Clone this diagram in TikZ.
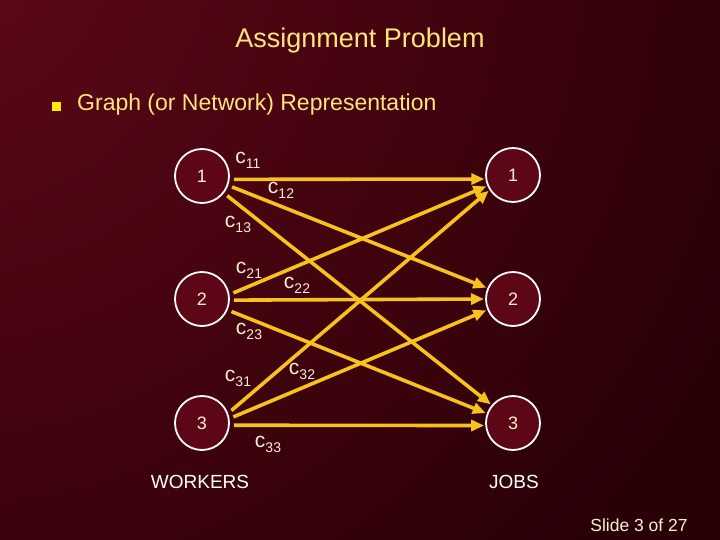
\documentclass[tikz,border=0pt]{standalone}
\usepackage{fontspec}
\setmainfont{Liberation Sans}
\usetikzlibrary{arrows.meta}
\definecolor{bgdark}{HTML}{2A0007}
\definecolor{bglight}{HTML}{600818}
\definecolor{nodefill}{HTML}{5C0616}
\definecolor{titleyellow}{HTML}{FFE57A}
\definecolor{cream}{HTML}{FBEFD0}
\definecolor{edgeyellow}{HTML}{F8C21C}
\newcommand{\clab}[1]{c\raisebox{-5pt}{\fontsize{14}{14}\selectfont #1}}
\tikzset{
  worker/.style={circle, draw=white, line width=1.8pt, fill=nodefill, minimum size=54pt, inner sep=0pt, outer sep=5pt, text=cream, font=\fontsize{18}{20}\selectfont},
  job/.style={worker, outer sep=2pt},
  edge/.style={draw=edgeyellow, line width=3.6pt, -{Triangle[length=13pt,width=11pt]}},
  clabel/.style={text=cream, font=\fontsize{21}{22}\selectfont, inner sep=0pt},
  plain/.style={inner sep=0pt}
}
\begin{document}
\begin{tikzpicture}[x=1pt,y=-1pt]
\useasboundingbox (0,0) rectangle (720,540);
\fill[bgdark] (0,0) rectangle (720,540);
\begin{scope}
\clip (0,0) rectangle (720,540);
\shade[inner color=bglight, outer color=bgdark] (-60,-60) circle (880);
\end{scope}
% title
\node[plain, text=titleyellow, font=\fontsize{27}{30}\selectfont] (title) at (360,41) {Assignment Problem};
\fill[yellow!95!orange] (52,102) rectangle (61,111);
\node[plain, anchor=west, text=titleyellow, font=\fontsize{23}{26}\selectfont] (sub) at (77,105) {Graph (or Network) Representation};
% nodes
\node[worker] (L1) at (202,176) {1};
\node[worker] (L2) at (202,299) {2};
\node[worker] (L3) at (202,423) {3};
\node[job] (R1) at (513,175) {1};
\node[job] (R2) at (513,299) {2};
\node[job] (R3) at (513,423) {3};
% edges
\draw[edge] (L1.-6) -- (R1.188);
\draw[edge] (L1.-20) -- (R2.157);
\draw[edge] (L1.-38) -- (R3.140);
\draw[edge] (L2.11) -- (R1.203);
\draw[edge] (L2.-2) -- (R2.180);
\draw[edge] (L2.-23) -- (R3.160);
\draw[edge] (L3.23) -- (R1.213);
\draw[edge] (L3.11) -- (R2.203);
\draw[edge] (L3.-4) -- (R3.185);
% labels
\node[clabel] (c11) at (248,160) {\clab{11}};
\node[clabel] (c12) at (281,190) {\clab{12}};
\node[clabel] (c13) at (238,224) {\clab{13}};
\node[clabel] (c21) at (249,270) {\clab{21}};
\node[clabel] (c22) at (297,285) {\clab{22}};
\node[clabel] (c23) at (249,331) {\clab{23}};
\node[clabel] (c31) at (238,378) {\clab{31}};
\node[clabel] (c32) at (302,371) {\clab{32}};
\node[clabel] (c33) at (268,444) {\clab{33}};
% captions
\node[plain, text=white, font=\fontsize{19}{21}\selectfont] (workers) at (200,482) {WORKERS};
\node[plain, text=white, font=\fontsize{19}{21}\selectfont] (jobs) at (514,482) {JOBS};
\node[plain, text=cream, font=\fontsize{17.5}{19}\selectfont] (slide) at (639,525) {Slide 3 of 27};
\end{tikzpicture}
\end{document}
